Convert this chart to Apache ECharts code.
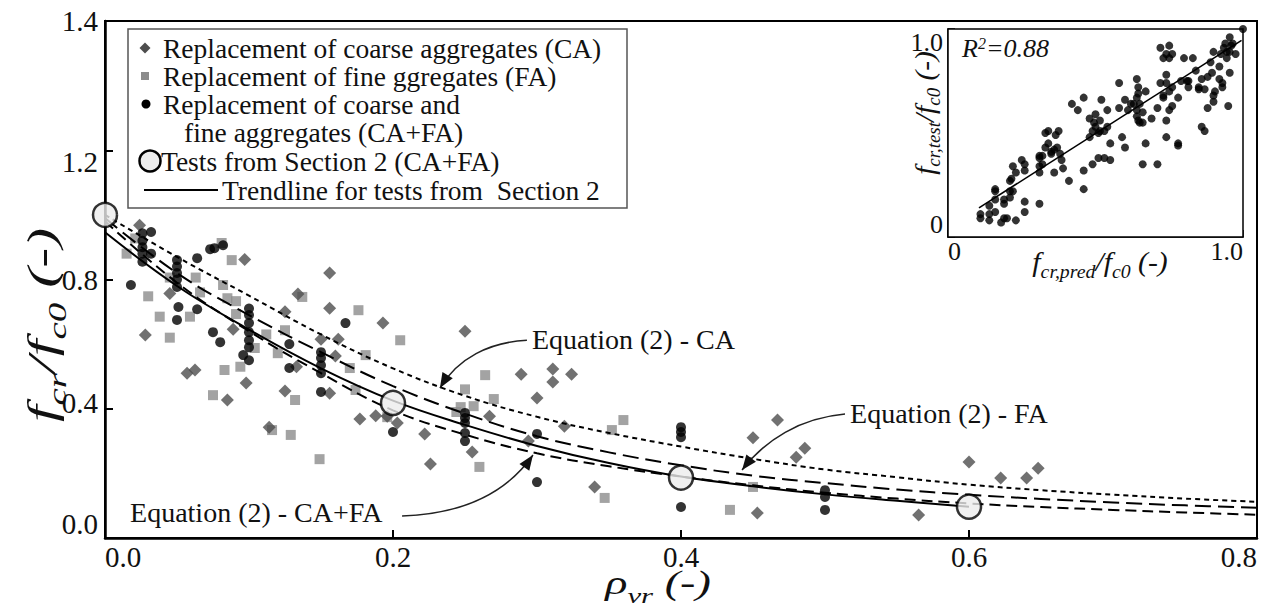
<!DOCTYPE html>
<html>
<head>
<meta charset="utf-8">
<script src="https://cdn.jsdelivr.net/npm/echarts@6/dist/echarts.min.js"></script>
<style>
  html, body { margin: 0; padding: 0; background: #fff; }
  #chart { width: 1269px; height: 614px; }
</style>
</head>
<body>
<div id="chart"></div>
<script>
// ---- tick labels ----
const xTickLabels = ['0.0', '0.2', '0.4', '0.6', '0.8'];
const yTickLabels = ['0.0', '0.4', '0.8', '1.2', '1.4'];
const insetXTickLabels = ['0', '', '1.0'];
const insetYTickLabels = ['0', '', '1.0'];

// ---- scatter data: [rho_vr, fcr/fc0] ----
const caPoints = [
  [0.024,0.968],[0.028,0.628],[0.045,0.757],[0.057,0.51],[0.0625,0.52],[0.097,0.862],
  [0.089,0.646],[0.098,0.48],[0.085,0.427],[0.125,0.70],[0.134,0.755],[0.125,0.455],
  [0.133,0.53],[0.114,0.343],[0.156,0.82],[0.156,0.711],[0.15,0.615],[0.162,0.615],
  [0.16,0.563],[0.193,0.665],[0.156,0.448],[0.177,0.368],[0.188,0.378],[0.203,0.356],
  [0.25,0.64],[0.289,0.507],[0.311,0.523],[0.311,0.483],[0.324,0.507],[0.3,0.433],
  [0.267,0.377],[0.196,0.377],[0.222,0.322],[0.255,0.266],[0.226,0.229],[0.319,0.346],
  [0.294,0.3],[0.34,0.158],[0.45,0.31],[0.467,0.365],[0.453,0.077],[0.48,0.25],
  [0.486,0.278],[0.565,0.071],[0.6,0.235],[0.622,0.186],[0.64,0.186],[0.648,0.216]
];
const faPoints = [
  [0.015,0.88],[0.021,0.927],[0.03,0.748],[0.038,0.685],[0.045,0.62],[0.045,0.806],
  [0.059,0.685],[0.063,0.806],[0.066,0.76],[0.081,0.913],[0.088,0.86],[0.082,0.783],
  [0.085,0.742],[0.091,0.733],[0.091,0.693],[0.083,0.52],[0.094,0.53],[0.075,0.442],
  [0.104,0.588],[0.112,0.63],[0.12,0.572],[0.125,0.643],[0.137,0.746],[0.132,0.427],
  [0.116,0.334],[0.129,0.319],[0.176,0.705],[0.181,0.566],[0.17,0.526],[0.174,0.458],
  [0.205,0.612],[0.196,0.374],[0.149,0.244],[0.264,0.504],[0.25,0.46],[0.27,0.43],
  [0.256,0.408],[0.244,0.39],[0.247,0.405],[0.26,0.22],[0.36,0.365],[0.352,0.334],
  [0.347,0.124],[0.434,0.087],[0.45,0.158]
];
const cafaPoints = [
  [0.018,0.783],[0.026,0.943],[0.026,0.92],[0.026,0.9],[0.026,0.88],[0.026,0.855],
  [0.032,0.947],[0.032,0.88],[0.05,0.86],[0.05,0.84],[0.05,0.82],[0.05,0.8],[0.05,0.777],
  [0.051,0.715],[0.05,0.675],[0.064,0.866],[0.064,0.708],[0.073,0.894],[0.076,0.897],
  [0.082,0.906],[0.075,0.637],[0.08,0.606],[0.1,0.71],[0.1,0.69],[0.1,0.665],[0.1,0.637],
  [0.1,0.612],[0.1,0.59],[0.096,0.566],[0.1,0.55],[0.128,0.6],[0.128,0.526],[0.15,0.575],
  [0.15,0.557],[0.15,0.535],[0.15,0.51],[0.15,0.452],[0.167,0.665],[0.2,0.328],
  [0.25,0.387],[0.25,0.371],[0.25,0.356],[0.25,0.325],[0.25,0.3],[0.3,0.322],[0.3,0.173],
  [0.4,0.343],[0.4,0.328],[0.4,0.312],[0.4,0.096],[0.5,0.148],[0.5,0.127],[0.5,0.087]
];
const section2Tests = [[0, 1.0], [0.2, 0.418], [0.4, 0.187], [0.6, 0.097]];

// ---- curves ----
const trendSection2 = [
  [0,0.946],[0.05,0.78],[0.1,0.645],[0.15,0.525],[0.2,0.425],[0.25,0.35],[0.3,0.285],
  [0.35,0.232],[0.4,0.19],[0.45,0.16],[0.5,0.135],[0.55,0.115],[0.6,0.097]
];
const eqCA = [
  [0,1.0],[0.05,0.87],[0.1,0.75],[0.15,0.63],[0.2,0.525],[0.25,0.44],[0.3,0.375],
  [0.35,0.325],[0.4,0.283],[0.45,0.245],[0.5,0.212],[0.55,0.188],[0.6,0.165],
  [0.65,0.148],[0.7,0.134],[0.75,0.122],[0.8,0.112]
];
const eqFA = [
  [0,0.99],[0.05,0.82],[0.1,0.69],[0.15,0.575],[0.2,0.47],[0.25,0.385],[0.3,0.315],
  [0.35,0.265],[0.4,0.225],[0.45,0.193],[0.5,0.17],[0.55,0.15],[0.6,0.134],
  [0.65,0.121],[0.7,0.11],[0.75,0.101],[0.8,0.094]
];
const eqCAFA = [
  [0,0.98],[0.05,0.79],[0.1,0.64],[0.15,0.51],[0.2,0.395],[0.25,0.32],[0.3,0.262],
  [0.35,0.222],[0.4,0.19],[0.45,0.163],[0.5,0.14],[0.55,0.122],[0.6,0.107],
  [0.65,0.096],[0.7,0.087],[0.75,0.079],[0.8,0.072]
];

// ---- inset: predicted vs tested ----
const insetPoints = [
  [0.11,0.11],[0.11,0.09],[0.14,0.08],[0.14,0.15],[0.14,0.11],[0.16,0.12],[0.16,0.22],
  [0.16,0.18],[0.16,0.23],[0.18,0.07],[0.19,0.09],[0.2,0.09],[0.19,0.16],[0.19,0.18],
  [0.21,0.19],[0.21,0.22],[0.21,0.27],[0.215,0.28],[0.22,0.22],[0.23,0.08],[0.23,0.31],
  [0.22,0.34],[0.26,0.17],[0.26,0.12],[0.25,0.37],[0.26,0.35],[0.26,0.32],[0.31,0.38],
  [0.31,0.34],[0.31,0.39],[0.31,0.31],[0.31,0.16],[0.32,0.35],[0.32,0.39],[0.33,0.5],
  [0.33,0.43],[0.34,0.51],[0.34,0.45],[0.35,0.41],[0.35,0.4],[0.36,0.31],[0.36,0.42],
  [0.365,0.49],[0.37,0.43],[0.375,0.51],[0.38,0.4],[0.385,0.37],[0.39,0.33],[0.41,0.27],
  [0.42,0.64],[0.44,0.61],[0.46,0.67],[0.46,0.23],[0.46,0.32],[0.48,0.57],[0.48,0.48],
  [0.49,0.51],[0.49,0.35],[0.495,0.55],[0.5,0.59],[0.5,0.53],[0.51,0.38],[0.515,0.56],
  [0.51,0.5],[0.515,0.51],[0.52,0.66],[0.53,0.51],[0.53,0.38],[0.54,0.61],[0.54,0.53],
  [0.55,0.37],[0.55,0.45],[0.58,0.74],[0.58,0.62],[0.59,0.48],[0.6,0.43],[0.6,0.66],
  [0.61,0.61],[0.62,0.64],[0.63,0.64],[0.64,0.76],[0.64,0.67],[0.64,0.61],[0.64,0.58],
  [0.645,0.72],[0.645,0.69],[0.645,0.56],[0.65,0.64],[0.65,0.55],[0.66,0.35],[0.66,0.6],
  [0.66,0.55],[0.67,0.7],[0.67,0.45],[0.69,0.57],[0.71,0.35],[0.71,0.62],[0.72,0.74],
  [0.73,0.67],[0.73,0.68],[0.74,0.56],[0.74,0.48],[0.74,0.74],[0.74,0.78],[0.75,0.61],
  [0.75,0.7],[0.76,0.63],[0.76,0.72],[0.78,0.67],[0.78,0.45],[0.78,0.44],[0.79,0.75],
  [0.8,0.86],[0.815,0.75],[0.815,0.72],[0.72,0.91],[0.73,0.86],[0.74,0.88],[0.75,0.86],
  [0.75,0.92],[0.76,0.88],[0.81,0.75],[0.83,0.86],[0.84,0.8],[0.85,0.72],[0.85,0.71],
  [0.86,0.53],[0.87,0.51],[0.86,0.76],[0.87,0.71],[0.88,0.77],[0.88,0.62],[0.89,0.84],
  [0.895,0.79],[0.9,0.68],[0.9,0.65],[0.9,0.89],[0.905,0.7],[0.92,0.82],[0.92,0.76],
  [0.925,0.88],[0.93,0.74],[0.93,0.72],[0.935,0.91],[0.94,0.93],[0.945,0.89],[0.945,0.86],
  [0.95,0.63],[0.955,0.96],[0.955,0.79],[0.955,0.89],[0.96,0.92],[0.965,0.93],[0.975,0.88],
  [1.0,1.0]
];
const insetFit = [[0.105, 0.14], [0.995, 0.945]];

// ---- annotation anchors (data coordinates) ----
const annotations = [
  { label: 'Equation (2) - CA', text: [0.2965, 0.6155],
    leader: [[0.293, 0.612], [0.267, 0.606], [0.245, 0.557], [0.2326, 0.464]] },
  { label: 'Equation (2) - FA', text: [0.5174, 0.3866],
    leader: [[0.5139, 0.3836], [0.4826, 0.3712], [0.4583, 0.3031], [0.4424, 0.2103]] },
  { label: 'Equation (2) - CA+FA', text: [0.0174, 0.0804],
    leader: [[0.2063, 0.068], [0.2465, 0.0742], [0.2778, 0.133], [0.2972, 0.2567]] }
];

const SERIF = 'Liberation Serif';
const INK = '#111';
const caColor = '#4d4d4d';
const faColor = '#8c8c8c';
const cafaColor = '#000';

// vertical nudge (px) of the main y tick labels relative to their ticks
const yLabelNudge = [0, -6, 0, 12, 0];

const chart = echarts.init(document.getElementById('chart'), null, { renderer: 'svg' });

const tickLabel = (labels, size) => ({
  fontFamily: SERIF, fontSize: size, color: INK,
  formatter: (v, i) => labels[i] !== undefined ? labels[i] : ''
});

const yMainLabel = {
  fontFamily: SERIF, fontSize: 29, color: INK, margin: 7, verticalAlignMinLabel: 'bottom',
  formatter: (v, i) => {
    const n = yLabelNudge[i] || 0;
    return n === 0 ? yTickLabels[i] : '{n' + i + '|' + yTickLabels[i] + '}';
  },
  rich: Object.fromEntries(yLabelNudge.map((n, i) => ['n' + i, {
    fontFamily: SERIF, fontSize: 29, color: INK,
    padding: n > 0 ? [2 * n, 0, 0, 0] : [0, 0, -2 * n, 0]
  }]))
};

const option = {
  animation: false,
  backgroundColor: '#fff',
  textStyle: { fontFamily: SERIF },
  grid: [
    { left: 105, right: 12, top: 21, bottom: 76, show: true, borderColor: '#000', borderWidth: 2,
      outerBoundsMode: 'none' },
    { left: 948, top: 29, width: 295, height: 208, show: true, borderColor: '#000', borderWidth: 1.5,
      backgroundColor: '#fff', z: 10, outerBoundsMode: 'none' }
  ],
  xAxis: [
    { type: 'value', gridIndex: 0, min: 0, max: 0.8, interval: 0.2,
      axisLine: { show: true, onZero: false, lineStyle: { color: '#000', width: 2.5 } },
      axisTick: { show: true, inside: true, length: 8, lineStyle: { color: '#000', width: 2 } },
      axisLabel: Object.assign(tickLabel(xTickLabels, 29), { margin: 4, alignMinLabel: 'left', alignMaxLabel: 'right' }),
      splitLine: { show: false } },
    { type: 'value', gridIndex: 1, min: 0, max: 1, interval: 0.5,
      axisLine: { show: true, onZero: false, lineStyle: { color: '#000', width: 1.5 } },
      axisTick: { show: true, inside: true, length: 7, lineStyle: { color: '#000', width: 1.5 } },
      axisLabel: Object.assign(tickLabel(insetXTickLabels, 26), { margin: 1, alignMinLabel: 'left', alignMaxLabel: 'right' }),
      splitLine: { show: false } }
  ],
  yAxis: [
    { type: 'value', gridIndex: 0, min: 0, max: 1.6, interval: 0.4,
      axisLine: { show: true, onZero: false, lineStyle: { color: '#000', width: 2.5 } },
      axisTick: { show: true, inside: true, length: 8, lineStyle: { color: '#000', width: 2 } },
      axisLabel: yMainLabel,
      splitLine: { show: false } },
    { type: 'value', gridIndex: 1, min: 0, max: 1, interval: 0.5,
      axisLine: { show: true, onZero: false, lineStyle: { color: '#000', width: 1.5 } },
      axisTick: { show: true, inside: true, length: 7, lineStyle: { color: '#000', width: 1.5 } },
      axisLabel: Object.assign(tickLabel(insetYTickLabels, 26), { margin: 5, verticalAlignMinLabel: 'bottom', verticalAlignMaxLabel: 'top' }),
      splitLine: { show: false } }
  ],
  series: [
    { name: 'FA', type: 'scatter', xAxisIndex: 0, yAxisIndex: 0, data: faPoints,
      symbol: 'rect', symbolSize: 10, itemStyle: { color: faColor }, z: 2 },
    { name: 'CA', type: 'scatter', xAxisIndex: 0, yAxisIndex: 0, data: caPoints,
      symbol: 'diamond', symbolSize: 13, itemStyle: { color: caColor }, z: 2 },
    { name: 'CA+FA', type: 'scatter', xAxisIndex: 0, yAxisIndex: 0, data: cafaPoints,
      symbol: 'circle', symbolSize: 10, itemStyle: { color: cafaColor }, z: 3 },
    { name: 'Equation (2) - CA', type: 'line', xAxisIndex: 0, yAxisIndex: 0, data: eqCA,
      smooth: 0.4, symbol: 'none', lineStyle: { color: '#000', width: 2, type: [5, 4] }, z: 4 },
    { name: 'Equation (2) - FA', type: 'line', xAxisIndex: 0, yAxisIndex: 0, data: eqFA,
      smooth: 0.4, symbol: 'none', lineStyle: { color: '#000', width: 2, type: [16, 7] }, z: 4 },
    { name: 'Equation (2) - CA+FA', type: 'line', xAxisIndex: 0, yAxisIndex: 0, data: eqCAFA,
      smooth: 0.4, symbol: 'none', lineStyle: { color: '#000', width: 2, type: [11, 6] }, z: 4 },
    { name: 'Trendline', type: 'line', xAxisIndex: 0, yAxisIndex: 0, data: trendSection2,
      smooth: 0.4, symbol: 'none', lineStyle: { color: '#000', width: 2 }, z: 4 },
    { name: 'Tests from Section 2', type: 'scatter', xAxisIndex: 0, yAxisIndex: 0, data: section2Tests,
      symbol: 'circle', symbolSize: 24, clip: false,
      itemStyle: { color: '#ececec', borderColor: '#000', borderWidth: 2.5 }, z: 6 },
    { name: 'inset', type: 'scatter', xAxisIndex: 1, yAxisIndex: 1, data: insetPoints,
      symbol: 'circle', symbolSize: 8, clip: false, itemStyle: { color: '#000' }, z: 12 },
    { name: 'inset fit', type: 'line', xAxisIndex: 1, yAxisIndex: 1, data: insetFit,
      symbol: 'none', lineStyle: { color: '#000', width: 1.5 }, z: 12 }
  ]
};
chart.setOption(option);

// ---- overlays: titles, legend, annotations ----
const toPx = p => chart.convertToPixel({ gridIndex: 0 }, p);
const txt = (x, y, text, size, extra) => ({
  type: 'text', x: x, y: y, z: 20,
  style: Object.assign({ text: text, fontFamily: SERIF, fontSize: size, fill: INK, lineHeight: 22,
    align: 'left', verticalAlign: 'middle', textAlign: 'left', textVerticalAlign: 'middle' }, extra || {})
});
const richItalic = (main, sub) => ({
  i: { fontFamily: SERIF, fontStyle: 'italic', fontSize: main, fill: INK, verticalAlign: 'bottom' },
  s: { fontFamily: SERIF, fontStyle: 'italic', fontSize: sub, fill: INK, verticalAlign: 'bottom', padding: [0, 0, -Math.round(sub * 0.3), 0] },
  u: { fontFamily: SERIF, fontStyle: 'italic', fontSize: sub, fill: INK, verticalAlign: 'top' }
});
// italic titles set in a wide face: stretched along the reading direction
const title = (x, y, text, main, sub, stretch, rotate) => Object.assign(
  txt(x, y, text, main, { align: 'center', textAlign: 'center', lineHeight: null, rich: richItalic(main, sub) }),
  { scaleX: stretch, scaleY: 1, rotation: rotate ? Math.PI / 2 : 0 });

const graphics = [];

// axis titles
graphics.push(title(42, 325, '{i|f}{s|cr}{i|/f}{s|c0}{i| (-)}', 40, 26, 1.5, true));
graphics.push(title(658, 583, '{i|ρ}{s|vr}{i| (-)}', 33, 22, 1.4, false));
graphics.push(title(924, 113, '{i|f}{s|cr,test}{i|/f}{s|c0}{i| (-)}', 28, 18, 1.05, true));
graphics.push(title(1100, 262, '{i|f}{s|cr,pred}{i|/f}{s|c0}{i| (-)}', 27, 18, 1.1, false));
graphics.push(txt(962, 48, '{i|R}{u|2}{i|=0.88}', 26, { lineHeight: null, rich: richItalic(26, 16) }));

// legend box
const lg = { x: 128, y: 29, w: 499, h: 179 };
graphics.push({ type: 'rect', z: 19, shape: { x: lg.x, y: lg.y, width: lg.w, height: lg.h },
  style: { fill: '#fff', stroke: '#555', lineWidth: 1.5 } });
const rowY = [48, 76, 104, 132, 161, 190];
graphics.push({ type: 'polygon', z: 20, shape: { points: [[145, rowY[0] - 5.5], [150.5, rowY[0]], [145, rowY[0] + 5.5], [139.5, rowY[0]]] },
  style: { fill: caColor } });
graphics.push({ type: 'rect', z: 20, shape: { x: 141, y: rowY[1] - 4, width: 8, height: 8 }, style: { fill: faColor } });
graphics.push({ type: 'circle', z: 20, shape: { cx: 146, cy: rowY[2], r: 4.5 }, style: { fill: cafaColor } });
graphics.push({ type: 'circle', z: 20, shape: { cx: 150, cy: rowY[4], r: 10.5 },
  style: { fill: '#ececec', stroke: '#000', lineWidth: 2.5 } });
graphics.push({ type: 'line', z: 20, shape: { x1: 144, y1: rowY[5], x2: 218, y2: rowY[5] },
  style: { stroke: '#000', lineWidth: 2 } });
graphics.push(txt(163, rowY[0], 'Replacement of coarse aggregates (CA)', 27.5));
graphics.push(txt(163, rowY[1], 'Replacement of fine ggregates (FA)', 27.5));
graphics.push(txt(163, rowY[2], 'Replacement of coarse and', 27.5));
graphics.push(txt(184, rowY[3], 'fine aggregates (CA+FA)', 27.5));
graphics.push(txt(161, rowY[4], 'Tests from Section 2 (CA+FA)', 27.5));
graphics.push(txt(222, rowY[5], 'Trendline for tests from  Section 2', 27.5));

// equation callouts with curved leaders and arrowheads
annotations.forEach(a => {
  const t = toPx(a.text);
  const [s, c1, c2, tip] = a.leader.map(toPx);
  graphics.push(txt(t[0], t[1], a.label, 28));
  graphics.push({ type: 'bezierCurve', z: 20,
    shape: { x1: s[0], y1: s[1], cpx1: c1[0], cpy1: c1[1], cpx2: c2[0], cpy2: c2[1], x2: tip[0], y2: tip[1] },
    style: { stroke: '#222', lineWidth: 1.5, fill: 'none' } });
  let dx = tip[0] - c2[0], dy = tip[1] - c2[1];
  const len = Math.hypot(dx, dy); dx /= len; dy /= len;
  const L = 15, W = 6;
  const bx = tip[0] - dx * L, by = tip[1] - dy * L;
  graphics.push({ type: 'polygon', z: 21,
    shape: { points: [[tip[0], tip[1]], [bx - dy * W, by + dx * W], [bx + dy * W, by - dx * W]] },
    style: { fill: '#111' } });
});

chart.setOption({ graphic: graphics });
</script>
</body>
</html>
